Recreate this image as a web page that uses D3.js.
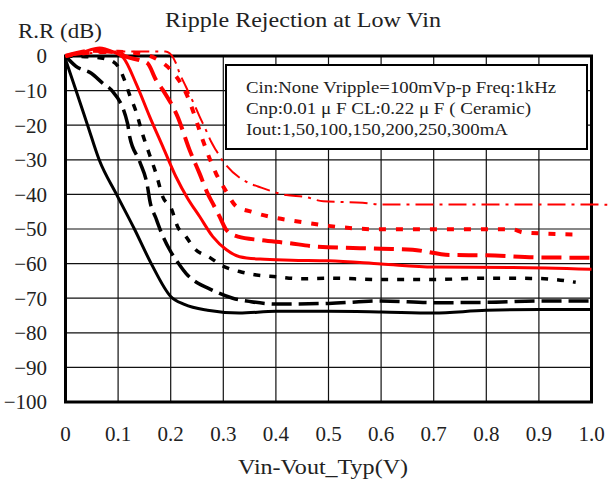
<!DOCTYPE html>
<html><head><meta charset="utf-8">
<script src="https://cdn.jsdelivr.net/npm/d3@7"></script>
<style>body{margin:0;background:#fff}svg{display:block}text{font-family:"Liberation Serif","DejaVu Serif",serif;fill:#222}</style>
</head><body><svg id="c" width="616" height="480"></svg>
<script>
const xTicks = [0,0.1,0.2,0.3,0.4,0.5,0.6,0.7,0.8,0.9,1.0];
const xTickLabels = ["0","0.1","0.2","0.3","0.4","0.5","0.6","0.7","0.8","0.9","1.0"];
const yTicks = [0,-10,-20,-30,-40,-50,-60,-70,-80,-90,-100];
const yTickLabels = ["0","\u221210","\u221220","\u221230","\u221240","\u221250","\u221260","\u221270","\u221280","\u221290","\u2212100"];
const seriesNames = ["1mA","50mA","100mA","150mA","200mA","250mA","300mA"];
const s1mA = [[0,-1],[0.02,-10],[0.042,-20],[0.064,-30],[0.097,-40],[0.131,-50],[0.163,-60],[0.2,-69.5],[0.226,-71.8],[0.27,-73.5],[0.33,-74.3],[0.4,-73.8],[0.5,-73.8],[0.6,-74],[0.7,-74.3],[0.8,-73.5],[0.9,-73.3],[1.0,-73.3]];
const s50mA = [[0,0],[0.02,-3],[0.049,-5],[0.071,-7.9],[0.087,-9.8],[0.118,-19.5],[0.122,-23.3],[0.141,-30.5],[0.156,-37.8],[0.16,-41.6],[0.172,-46.9],[0.179,-49.8],[0.198,-56],[0.217,-60.4],[0.229,-62.8],[0.252,-65.7],[0.271,-67.1],[0.318,-70],[0.353,-71],[0.4,-71.7],[0.5,-71.5],[0.6,-70.8],[0.7,-71.3],[0.8,-71.2],[0.9,-70.8],[1.0,-70.8]];
const s100mA = [[0,0],[0.05,-0.3],[0.08,-1],[0.1,-3],[0.112,-6.9],[0.122,-11.3],[0.134,-16],[0.147,-22.8],[0.16,-28.6],[0.172,-33.9],[0.185,-40.7],[0.201,-44],[0.213,-49.3],[0.229,-52.2],[0.245,-55.6],[0.274,-58.2],[0.299,-60.7],[0.331,-62.3],[0.363,-63.3],[0.4,-63.8],[0.45,-64.4],[0.5,-64.2],[0.6,-64.6],[0.7,-64.6],[0.8,-64.2],[0.9,-64.3],[0.97,-65.4]];
const s150mA = [[0,0],[0.03,1],[0.065,2.3],[0.09,1.2],[0.11,-0.5],[0.134,-7.9],[0.16,-17.5],[0.185,-26.2],[0.21,-34.9],[0.232,-41.1],[0.255,-46.4],[0.28,-52.2],[0.306,-56],[0.331,-58],[0.37,-58.7],[0.43,-59],[0.5,-59.2],[0.6,-60.1],[0.7,-61],[0.85,-61.1],[1.0,-61.6]];
const s200mA = [[0,0],[0.05,1.5],[0.1,1],[0.115,-0.2],[0.141,-1.2],[0.156,-2.1],[0.172,-6.9],[0.185,-9.8],[0.213,-17.5],[0.236,-27.2],[0.255,-34],[0.271,-40],[0.28,-42.6],[0.293,-46.4],[0.306,-50.3],[0.328,-52.2],[0.37,-53.2],[0.42,-54],[0.48,-55.1],[0.6,-55.7],[0.66,-56],[0.73,-57.5],[0.8,-57.6],[0.9,-58.2],[1.0,-58.3]];
const s250mA = [[0,0],[0.05,1],[0.1,1.2],[0.15,0.5],[0.18,-1.5],[0.2,-4],[0.232,-11.7],[0.245,-17],[0.261,-24.3],[0.286,-33.9],[0.305,-39],[0.325,-43.5],[0.353,-45],[0.39,-46.5],[0.45,-48],[0.5,-49.1],[0.6,-50.1],[0.85,-50.1],[0.87,-51],[0.98,-51.6]];
const s300mA = [[0,0],[0.06,1],[0.115,1.3],[0.19,1.3],[0.198,0.8],[0.21,-2.1],[0.217,-5],[0.229,-8.9],[0.248,-15.1],[0.255,-17.5],[0.267,-21.4],[0.277,-24.8],[0.286,-27.2],[0.3,-30.5],[0.35,-36.8],[0.366,-37.7],[0.42,-40.2],[0.455,-40.7],[0.49,-42],[0.565,-42.4],[0.6,-42.9],[1.0,-42.9],[1.03,-43]];
const legendLines = ["Cin:None Vripple=100mVp-p Freq:1kHz","Cnp:0.01 \u03bc F CL:0.22 \u03bc F ( Ceramic)","Iout:1,50,100,150,200,250,300mA"];

const svg = d3.select("#c");
const x = d3.scaleLinear().domain([0,1]).range([65.5,591.5]);
const y = d3.scaleLinear().domain([-100,0]).range([402,56]);

// grid
const g = svg.append("g");
g.selectAll(".vg").data(xTicks.slice(1,-1)).join("line")
  .attr("x1",d=>x(d)).attr("x2",d=>x(d)).attr("y1",y(0)).attr("y2",y(-100))
  .attr("stroke","#111").attr("stroke-width",1.2);
g.selectAll(".hg").data(yTicks.slice(1,-1)).join("line")
  .attr("y1",d=>y(d)).attr("y2",d=>y(d)).attr("x1",x(0)).attr("x2",x(1))
  .attr("stroke","#111").attr("stroke-width",1.2);
// frame
svg.append("rect").attr("x",x(0)).attr("y",y(0)).attr("width",x(1)-x(0)).attr("height",y(-100)-y(0))
  .attr("fill","none").attr("stroke","#000").attr("stroke-width",3);

// axes labels
svg.selectAll(".yl").data(yTicks).join("text")
  .attr("x",47).attr("y",d=>y(d)).attr("dy","0.35em").attr("text-anchor","end")
  .attr("font-size",21).text((d,i)=>yTickLabels[i]);
svg.selectAll(".xl").data(xTicks).join("text")
  .attr("x",d=>x(d)).attr("y",434).attr("dy","0.35em").attr("text-anchor","middle")
  .attr("font-size",21).text((d,i)=>xTickLabels[i]);

svg.append("text").attr("x",303).attr("y",20).attr("dy","0.35em").attr("text-anchor","middle")
  .attr("font-size",21).attr("textLength",276).attr("lengthAdjust","spacingAndGlyphs").text("Ripple Rejection at Low Vin");
svg.append("text").attr("x",18).attr("y",31).attr("dy","0.35em")
  .attr("font-size",21).attr("textLength",84).attr("lengthAdjust","spacingAndGlyphs").text("R.R (dB)");
svg.append("text").attr("x",323).attr("y",467).attr("dy","0.35em").attr("text-anchor","middle")
  .attr("font-size",21).attr("textLength",170).attr("lengthAdjust","spacingAndGlyphs").text("Vin-Vout_Typ(V)");

// series
const line = d3.line().x(d=>x(d[0])).y(d=>y(d[1])).curve(d3.curveMonotoneX);
const styles = [
  {data:s1mA,c:"#000",w:3,da:null},
  {data:s50mA,c:"#000",w:3.5,da:"20,7"},
  {data:s100mA,c:"#000",w:3.5,da:"7,9"},
  {data:s150mA,c:"#f00",w:3,da:null},
  {data:s200mA,c:"#f00",w:4,da:"20,8"},
  {data:s250mA,c:"#f00",w:4,da:"7,10"},
  {data:s300mA,c:"#f00",w:2,da:"18,6,3,6"}
];
svg.selectAll(".s").data(styles).join("path")
  .attr("d",d=>line(d.data)).attr("fill","none").attr("stroke",d=>d.c)
  .attr("stroke-width",d=>d.w).attr("stroke-dasharray",d=>d.da);

// legend
svg.append("rect").attr("x",226).attr("y",65).attr("width",361).attr("height",84)
  .attr("fill","#fff").attr("stroke","#000").attr("stroke-width",2);
const lw = [310,285,262];
const ly = [87,108,129];
svg.selectAll(".lg").data(legendLines).join("text")
  .attr("x",246).attr("y",(d,i)=>ly[i]).attr("dy","0.35em").attr("font-size",17)
  .attr("textLength",(d,i)=>lw[i]).attr("lengthAdjust","spacingAndGlyphs").text(d=>d);
</script></body></html>
